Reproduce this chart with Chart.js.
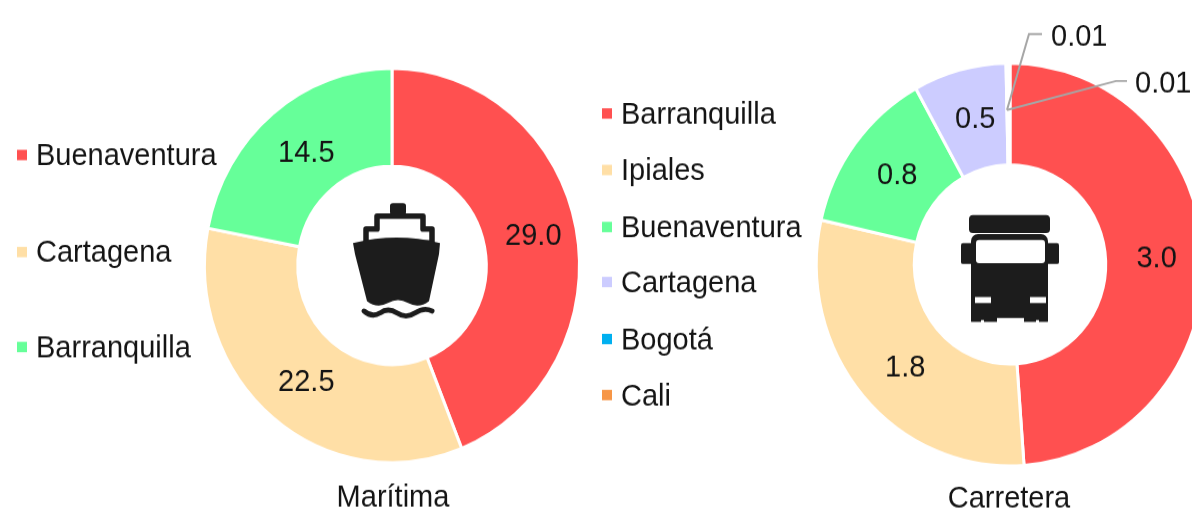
<!DOCTYPE html>
<html><head><meta charset="utf-8">
<script src="https://cdn.jsdelivr.net/npm/chart.js@4/dist/chart.umd.js"></script>
<style>
html,body{margin:0;padding:0;background:#fff;width:1192px;height:510px;overflow:hidden}
.w{position:absolute;top:0;transform-origin:0 0;filter:blur(0.55px)}
canvas{display:block}
</style></head><body>
<div class="w" id="wl"><canvas id="cl"></canvas></div>
<div class="w" id="wr"><canvas id="cr"></canvas></div>
<script>
const maritimaLabels=["Buenaventura","Cartagena","Barranquilla"];
const maritimaValues=[29.0,22.5,14.5];
const maritimaColors=["#FF5050","#FFDFA6","#66FF99"];
const carreteraLabels=["Barranquilla","Ipiales","Buenaventura","Cartagena","Bogotá","Cali"];
const carreteraValues=[2.96,1.80,0.81,0.47,0.01,0.01];
const carreteraColors=["#FF5050","#FFDFA6","#66FF99","#CCCCFF","#00B0F0","#F79646"];
const font='"Liberation Sans",Arial,sans-serif', ink='#141414';

function ship(c){
  c.strokeStyle='#1c1c1c';c.lineJoin='round';
  c.lineWidth=5.5;c.fillStyle='#fff';c.beginPath();
  c.moveTo(366,243);c.lineTo(366,229);c.lineTo(377,229);c.lineTo(377,216);c.lineTo(423,216);c.lineTo(423,229);c.lineTo(432,229);c.lineTo(432,243);c.closePath();c.fill();c.stroke();
  c.fillStyle='#1c1c1c';
  c.beginPath();c.roundRect(390,203,16,12,3);c.fill();
  c.beginPath();c.moveTo(353,243);c.quadraticCurveTo(397,232,440,243);c.lineTo(439,254);c.lineTo(429,301);c.quadraticCurveTo(419,309,408,303);c.quadraticCurveTo(398,297,388,303);c.quadraticCurveTo(377,309,367,301);c.lineTo(355,254);c.closePath();c.fill();
  c.lineWidth=5;c.lineCap='round';
  c.beginPath();c.moveTo(364,311);c.quadraticCurveTo(372,318,380,313);c.quadraticCurveTo(388,307,397,313);c.quadraticCurveTo(406,319,415,313);c.quadraticCurveTo(424,307,432,311);c.stroke();
}
function truck(c){
  c.fillStyle='#1c1c1c';
  c.beginPath();c.roundRect(969,215,81,18,4);c.fill();
  c.beginPath();c.roundRect(961,243,14,21,2);c.fill();
  c.beginPath();c.roundRect(1045,243,14,21,2);c.fill();
  c.beginPath();c.roundRect(971,234,77,88,[7,7,1,1]);c.fill();
  c.fillStyle='#fff';
  c.beginPath();c.roundRect(976,240,69,23,3);c.fill();
  c.fillRect(975,297,16,6);c.fillRect(1030,297,16,6);
  c.fillRect(997,318,27,5);c.fillRect(981,320,3,3);c.fillRect(1036,320,3,3);
}

function makeChart(id,wrapId,cfg){
  const W=cfg.width,H=Math.round(510/cfg.k),cy=cfg.cy/cfg.k,half=cfg.R+1;
  const wrap=document.getElementById(wrapId);
  wrap.style.left=cfg.left+'px';wrap.style.transform='scaleY('+cfg.k+')';
  const X=x=>x-cfg.left, Y=y=>y/cfg.k;
  const decor={id:'decor',afterDraw(chart){
    const c=chart.ctx,ds=chart.data.datasets[0],arcs=chart.getDatasetMeta(0).data;
    c.save();
    c.save();c.translate(-cfg.left,0);c.scale(1,1/cfg.k);
    if(cfg.leaders){c.strokeStyle='#A6A6A6';c.lineWidth=2;
      cfg.leaders.forEach(l=>{c.beginPath();l.forEach((p,i)=>i?c.lineTo(p[0],p[1]):c.moveTo(p[0],p[1]));c.stroke();});}
    cfg.icon(c);c.restore();
    c.textBaseline='middle';
    c.font='29px '+font;c.fillStyle=ink;c.textAlign='center';
    ds.data.forEach((v,i)=>{
      if(cfg.outside&&cfg.outside[i]){const o=cfg.outside[i];c.textAlign='left';c.fillText(v.toFixed(2),X(o[0]),Y(o[1]));c.textAlign='center';return;}
      const p=arcs[i].getCenterPoint(),d=cfg.nudge[i];
      c.fillText(v.toFixed(1),p.x+d[0],p.y+d[1]);
    });
    c.textAlign='left';
    chart.data.labels.forEach((t,i)=>{
      const y=cfg.legendY[i];
      c.fillStyle=ds.backgroundColor[i];
      c.fillRect(X(cfg.legendX),Y(y-5.2),10,10.4/cfg.k);
      c.fillStyle=ink;c.fillText(t,X(cfg.legendX+19),Y(y+1.8));
    });
    c.textAlign='center';
    c.fillText(cfg.title,X(cfg.titleX),Y(cfg.titleY));
    c.restore();
  }};
  const el=document.getElementById(id);el.width=W;el.height=H;
  return new Chart(el,{
    type:'doughnut',
    data:{labels:cfg.labels,datasets:[{data:cfg.values,backgroundColor:cfg.colors,borderColor:'#fff',borderWidth:3,borderJoinStyle:'miter'}]},
    options:{responsive:false,animation:false,radius:cfg.R,cutout:cfg.r,
      layout:{padding:{left:X(cfg.cx)-half,right:W-X(cfg.cx)-half,top:cy-half,bottom:H-cy-half}},
      plugins:{legend:{display:false},tooltip:{enabled:false}}},
    plugins:[decor]
  });
}

makeChart('cl','wl',{left:0,width:590,k:1.051,cx:392,cy:265.5,R:187.5,r:94,
  labels:maritimaLabels,values:maritimaValues,colors:maritimaColors,
  legendX:17,legendY:[155,252,347],title:'Marítima',titleX:393,titleY:498,icon:ship,
  nudge:[[3,-1],[4,3],[4,2]]});
makeChart('cr','wr',{left:590,width:640,k:1.04,cx:1010,cy:264.5,R:193.7,r:95.5,
  labels:carreteraLabels,values:carreteraValues,colors:carreteraColors,
  legendX:602,legendY:[113.5,170,227,282,339,395],title:'Carretera',titleX:1009,titleY:499,icon:truck,
  nudge:[[2,0],[5,5],[3,1],[3,0]],
  outside:{4:[1051,37],5:[1135,84]},
  leaders:[[[1007,110],[1029,34],[1042,34]],[[1007,110],[1116,81],[1127,81]]]});
</script>
</body></html>
